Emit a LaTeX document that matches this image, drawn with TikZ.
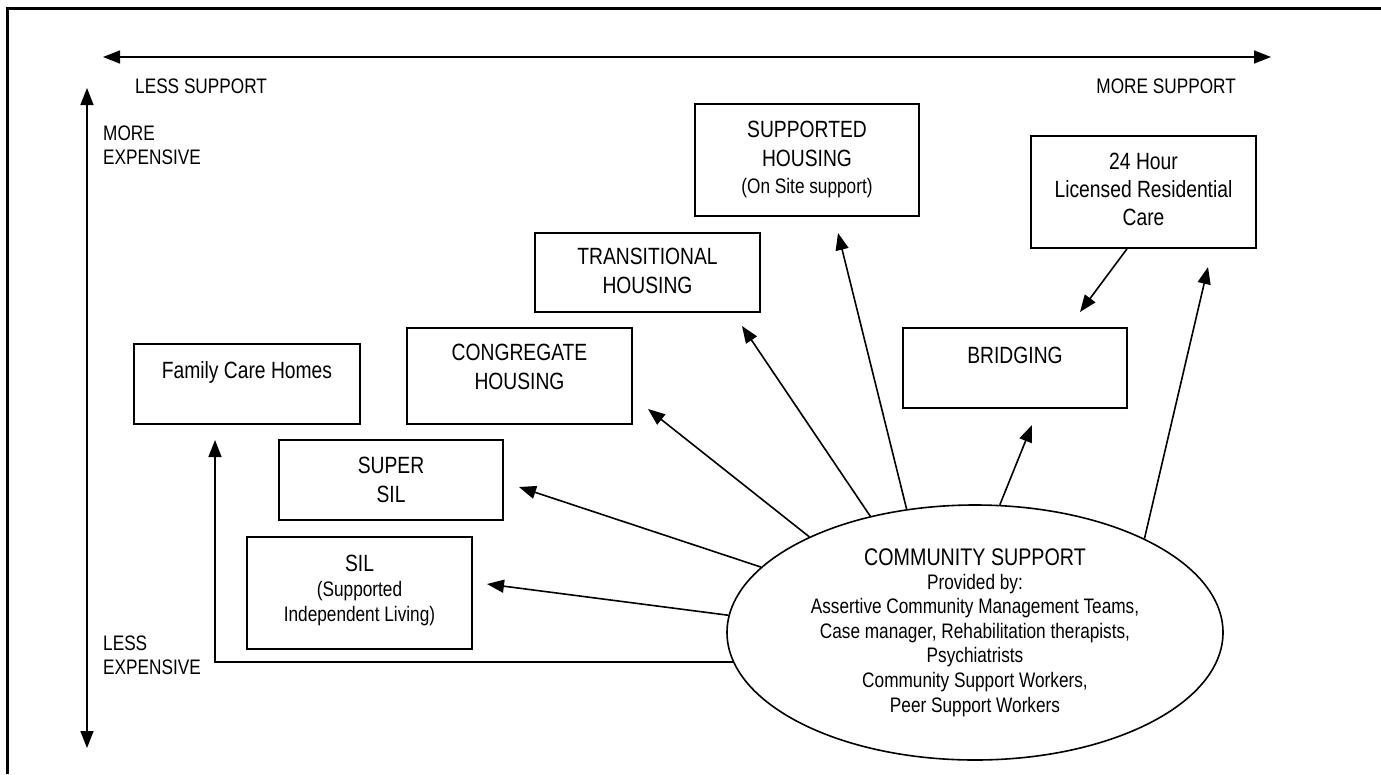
\documentclass[tikz,border=0pt]{standalone}
\usepackage{fontspec}
\setmainfont[FakeStretch=0.82]{Liberation Sans}
\usetikzlibrary{arrows.meta,shapes.geometric}
\begin{document}
\begin{tikzpicture}[x=1pt,y=-1pt,
  boxn/.style={draw, line width=1.6pt, inner sep=0pt, rectangle},
  tt/.style={inner sep=0pt, align=center, font=\fontsize{23.5}{29}\selectfont},
  ts/.style={inner sep=0pt, align=center, font=\fontsize{21}{25}\selectfont},
  ta/.style={inner sep=0pt, align=left, font=\fontsize{21}{24.5}\selectfont},
  conn/.style={line width=1.6pt, -{Triangle[length=17pt,width=13pt]}},
  axisline/.style={line width=1.6pt, {Triangle[length=17pt,width=13pt]}-{Triangle[length=17pt,width=13pt]}},
]
\useasboundingbox (0,0) rectangle (1381,774);
% frame
\draw[line width=2.6pt] (7.5,774) -- (7.5,8.5) -- (1381,8.5);

% axes
\coordinate (hl) at (103,57);
\coordinate (hr) at (1271,57);
\coordinate (vt) at (87,88);
\coordinate (vb) at (87,748);
\draw[axisline] (hl) -- (hr);
\draw[axisline] (vt) -- (vb);
\node[inner sep=0pt, font=\fontsize{21}{24.5}\selectfont, anchor=base west] (lsup) at (135,93) {LESS SUPPORT};
\node[inner sep=0pt, font=\fontsize{21}{24.5}\selectfont, anchor=base east] (msup) at (1236,93) {MORE SUPPORT};
\node[ta, anchor=west] (mexp) at (103,147.6) {\strut MORE\\EXPENSIVE\strut};
\node[ta, anchor=west] (lexp) at (103,657.6) {\strut LESS\\EXPENSIVE\strut};

% boxes
\node[boxn, minimum width=226pt, minimum height=80pt] (fam) at (247,384) {};
\node[boxn, minimum width=225pt, minimum height=96pt] (cong) at (519.5,376) {};
\node[boxn, minimum width=225pt, minimum height=79pt] (trans) at (647.5,272.5) {};
\node[boxn, minimum width=224pt, minimum height=112pt] (supp) at (807,160) {};
\node[boxn, minimum width=225pt, minimum height=112pt] (h24) at (1143.5,192) {};
\node[boxn, minimum width=224pt, minimum height=80pt] (bridg) at (1015,368) {};
\node[boxn, minimum width=224pt, minimum height=80pt] (ssil) at (391,480) {};
\node[boxn, minimum width=225pt, minimum height=112pt] (sil) at (359.5,593) {};

% box texts
\node[tt, anchor=base] (famt) at (247,378) {Family Care Homes};
\node[tt] (congt) at (519.5,369.2) {\strut CONGREGATE\\HOUSING\strut};
\node[tt] (transt) at (647.5,273.2) {\strut TRANSITIONAL\\HOUSING\strut};
\node[tt] (suppt) at (807,146.2) {\strut SUPPORTED\\HOUSING\strut};
\node[ts, anchor=base] (suppt2) at (807,193) {(On Site support)};
\node[tt, font=\fontsize{23.5}{28}\selectfont] (h24t) at (1143.5,191.4) {\strut 24 Hour\\Licensed Residential\\Care\strut};
\node[tt, anchor=base] (bridgt) at (1015,363) {BRIDGING};
\node[tt] (ssilt) at (391,481.7) {\strut SUPER\\SIL\strut};
\node[tt, anchor=base] (silt) at (359.5,571) {SIL};
\node[ts] (silt2) at (359.5,603.5) {\strut (Supported\\Independent Living)\strut};

% ellipse
\node[draw, ellipse, line width=1.6pt, minimum width=496pt, minimum height=255pt, inner sep=0pt] (ell) at (975,632.5) {};
\node[inner sep=0pt, font=\fontsize{24}{29}\selectfont, anchor=base] (ellh) at (975,565) {COMMUNITY SUPPORT};
\node[ts, font=\fontsize{21}{24.6}\selectfont] (ellt) at (975,645.6) {\strut Provided by:\\Assertive Community Management Teams,\\Case manager, Rehabilitation therapists,\\Psychiatrists\\Community Support Workers,\\Peer Support Workers\strut};

% arrow tips
\coordinate (tfam) at (215,440);
\coordinate (tsil) at (487,584);
\coordinate (tssil) at (519,487);
\coordinate (tcong) at (648,409);
\coordinate (ttrans) at (742,326);
\coordinate (tsupp) at (838,233);
\coordinate (tbridg) at (1032,425);
\coordinate (th24) at (1208,267);
\coordinate (th24b) at (1080,312);

% connectors
\draw[conn] (ell.187.6) -| (tfam);
\draw[conn] (ell.176.5) -- (tsil);
\draw[conn] (ell.163.4) -- (tssil);
\draw[conn] (ell.150.4) -- (tcong);
\draw[conn] (ell.132.6) -- (ttrans);
\draw[conn] (ell.119.5) -- (tsupp);
\draw[conn] (ell.79.5) -- (tbridg);
\draw[conn] (ell.29.5) -- (th24);
\draw[conn] (h24.south -| 1127,0) -- (th24b);
\end{tikzpicture}
\end{document}
